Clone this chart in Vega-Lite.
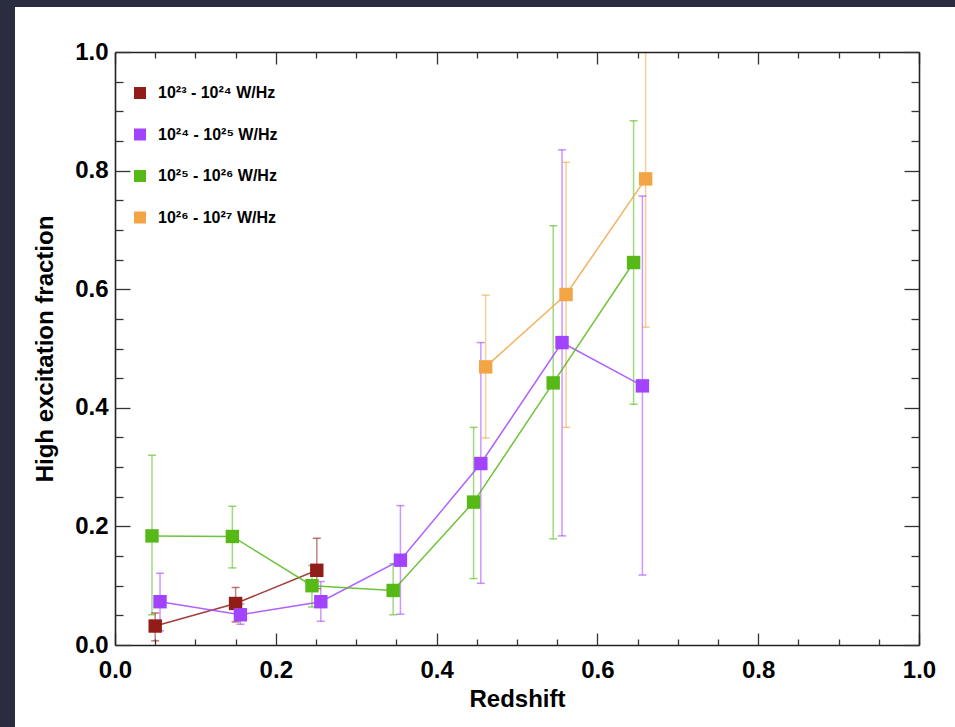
{
  "$schema": "https://vega.github.io/schema/vega-lite/v6.json",
  "autosize": "none",
  "width": 804,
  "height": 593,
  "padding": {"left": 115, "top": 52, "right": 36, "bottom": 82},
  "background": "#2a2c40",
  "data": {
    "values": [
      {"bin": "10²³ - 10²⁴ W/Hz", "z": 0.050, "f": 0.032, "lo": 0.007, "hi": 0.054},
      {"bin": "10²³ - 10²⁴ W/Hz", "z": 0.150, "f": 0.070, "lo": 0.039, "hi": 0.097},
      {"bin": "10²³ - 10²⁴ W/Hz", "z": 0.251, "f": 0.126, "lo": 0.095, "hi": 0.180},
      {"bin": "10²⁴ - 10²⁵ W/Hz", "z": 0.056, "f": 0.073, "lo": 0.024, "hi": 0.121},
      {"bin": "10²⁴ - 10²⁵ W/Hz", "z": 0.156, "f": 0.051, "lo": 0.035, "hi": 0.069},
      {"bin": "10²⁴ - 10²⁵ W/Hz", "z": 0.256, "f": 0.073, "lo": 0.040, "hi": 0.107},
      {"bin": "10²⁴ - 10²⁵ W/Hz", "z": 0.355, "f": 0.143, "lo": 0.052, "hi": 0.235},
      {"bin": "10²⁴ - 10²⁵ W/Hz", "z": 0.455, "f": 0.306, "lo": 0.104, "hi": 0.510},
      {"bin": "10²⁴ - 10²⁵ W/Hz", "z": 0.556, "f": 0.510, "lo": 0.184, "hi": 0.835},
      {"bin": "10²⁴ - 10²⁵ W/Hz", "z": 0.656, "f": 0.437, "lo": 0.118, "hi": 0.757},
      {"bin": "10²⁵ - 10²⁶ W/Hz", "z": 0.046, "f": 0.184, "lo": 0.051, "hi": 0.320},
      {"bin": "10²⁵ - 10²⁶ W/Hz", "z": 0.146, "f": 0.183, "lo": 0.130, "hi": 0.234},
      {"bin": "10²⁵ - 10²⁶ W/Hz", "z": 0.245, "f": 0.100, "lo": 0.064, "hi": 0.134},
      {"bin": "10²⁵ - 10²⁶ W/Hz", "z": 0.346, "f": 0.092, "lo": 0.051, "hi": 0.137},
      {"bin": "10²⁵ - 10²⁶ W/Hz", "z": 0.446, "f": 0.241, "lo": 0.112, "hi": 0.367},
      {"bin": "10²⁵ - 10²⁶ W/Hz", "z": 0.545, "f": 0.442, "lo": 0.179, "hi": 0.707},
      {"bin": "10²⁵ - 10²⁶ W/Hz", "z": 0.645, "f": 0.645, "lo": 0.406, "hi": 0.884},
      {"bin": "10²⁶ - 10²⁷ W/Hz", "z": 0.461, "f": 0.469, "lo": 0.349, "hi": 0.590},
      {"bin": "10²⁶ - 10²⁷ W/Hz", "z": 0.561, "f": 0.591, "lo": 0.367, "hi": 0.814},
      {"bin": "10²⁶ - 10²⁷ W/Hz", "z": 0.660, "f": 0.786, "lo": 0.536, "hi": 1.050}
    ]
  },
  "resolve": {"axis": {"x": "independent", "y": "independent"}},
  "layer": [
    {
      "mark": {"type": "rect", "color": "white", "clip": false},
      "encoding": {
        "x": {"datum": -0.124, "type": "quantitative", "scale": {"domain": [0, 1], "nice": false}, "axis": null},
        "x2": {"datum": 1.2},
        "y": {"datum": 1.076, "type": "quantitative", "scale": {"domain": [0, 1], "nice": false}, "axis": null},
        "y2": {"datum": -0.2}
      }
    },
    {
      "mark": {"type": "rule", "strokeWidth": 1.5, "opacity": 0.55, "clip": true},
      "encoding": {
        "x": {"field": "z", "type": "quantitative", "scale": {"domain": [0, 1], "nice": false},
          "axis": {"zindex": 2, "orient": "bottom", "values": [0, 0.2, 0.4, 0.6, 0.8, 1.0], "format": ".1f", "ticks": false, "domain": true, "title": "Redshift", "labelPadding": 13, "titlePadding": 5}},
        "y": {"field": "lo", "type": "quantitative", "scale": {"domain": [0, 1], "nice": false},
          "axis": {"zindex": 2, "orient": "left", "values": [0, 0.2, 0.4, 0.6, 0.8, 1.0], "format": ".1f", "ticks": false, "domain": true, "title": "High excitation fraction", "labelPadding": 7, "titlePadding": 17}},
        "y2": {"field": "hi"},
        "color": {"field": "bin", "type": "nominal", "legend": null,
          "scale": {"range": ["#921c18", "#a244ff", "#56b918", "#f3a444"]}}
      }
    },
    {
      "mark": {"type": "tick", "orient": "horizontal", "size": 8, "thickness": 1.5, "opacity": 0.6, "clip": true},
      "encoding": {
        "x": {"field": "z", "type": "quantitative", "scale": {"domain": [0, 1], "nice": false},
          "axis": {"zindex": 2, "orient": "bottom", "values": [0, 0.2, 0.4, 0.6, 0.8, 1.0], "labels": false, "domain": false, "tickSize": -12, "title": null}},
        "y": {"field": "lo", "type": "quantitative", "scale": {"domain": [0, 1], "nice": false},
          "axis": {"zindex": 2, "orient": "left", "values": [0, 0.2, 0.4, 0.6, 0.8, 1.0], "labels": false, "domain": false, "tickSize": -15, "title": null}},
        "color": {"field": "bin", "type": "nominal", "legend": null}
      }
    },
    {
      "mark": {"type": "tick", "orient": "horizontal", "size": 8, "thickness": 1.5, "opacity": 0.6, "clip": true},
      "encoding": {
        "x": {"field": "z", "type": "quantitative", "scale": {"domain": [0, 1], "nice": false},
          "axis": {"zindex": 2, "orient": "bottom", "values": [0.05, 0.1, 0.15, 0.25, 0.3, 0.35, 0.45, 0.5, 0.55, 0.65, 0.7, 0.75, 0.85, 0.9, 0.95], "labels": false, "domain": false, "tickSize": -6, "title": null}},
        "y": {"field": "hi", "type": "quantitative", "scale": {"domain": [0, 1], "nice": false},
          "axis": {"zindex": 2, "orient": "left", "values": [0.05, 0.1, 0.15, 0.25, 0.3, 0.35, 0.45, 0.5, 0.55, 0.65, 0.7, 0.75, 0.85, 0.9, 0.95], "labels": false, "domain": false, "tickSize": -8, "title": null}},
        "color": {"field": "bin", "type": "nominal", "legend": null}
      }
    },
    {
      "mark": {"type": "line", "strokeWidth": 1.5, "opacity": 0.85},
      "encoding": {
        "x": {"field": "z", "type": "quantitative", "scale": {"domain": [0, 1], "nice": false},
          "axis": {"zindex": 2, "orient": "top", "values": [0, 0.2, 0.4, 0.6, 0.8, 1.0], "labels": false, "domain": true, "tickSize": -12, "title": null}},
        "y": {"field": "f", "type": "quantitative", "scale": {"domain": [0, 1], "nice": false},
          "axis": {"zindex": 2, "orient": "right", "values": [0, 0.2, 0.4, 0.6, 0.8, 1.0], "labels": false, "domain": true, "tickSize": -15, "title": null}},
        "color": {"field": "bin", "type": "nominal", "legend": null}
      }
    },
    {
      "mark": {"type": "point", "shape": "square", "filled": true, "size": 180, "opacity": 1, "strokeWidth": 0},
      "encoding": {
        "x": {"field": "z", "type": "quantitative", "scale": {"domain": [0, 1], "nice": false},
          "axis": {"zindex": 2, "orient": "top", "values": [0.05, 0.1, 0.15, 0.25, 0.3, 0.35, 0.45, 0.5, 0.55, 0.65, 0.7, 0.75, 0.85, 0.9, 0.95], "labels": false, "domain": false, "tickSize": -6, "title": null}},
        "y": {"field": "f", "type": "quantitative", "scale": {"domain": [0, 1], "nice": false},
          "axis": {"zindex": 2, "orient": "right", "values": [0.05, 0.1, 0.15, 0.25, 0.3, 0.35, 0.45, 0.5, 0.55, 0.65, 0.7, 0.75, 0.85, 0.9, 0.95], "labels": false, "domain": false, "tickSize": -8, "title": null}},
        "fill": {
          "field": "bin", "type": "nominal",
          "scale": {"domain": ["10²³ - 10²⁴ W/Hz", "10²⁴ - 10²⁵ W/Hz", "10²⁵ - 10²⁶ W/Hz", "10²⁶ - 10²⁷ W/Hz"], "range": ["#921c18", "#a244ff", "#56b918", "#f3a444"]},
          "legend": {"orient": "none", "legendX": 17, "legendY": 33, "title": null, "symbolType": "square", "symbolSize": 144, "symbolOpacity": 1, "symbolStrokeWidth": 0, "labelFont": "Liberation Sans", "labelFontWeight": "bold", "labelFontSize": 16, "labelColor": "black", "labelOffset": 10, "rowPadding": 25.5, "padding": 0, "zindex": 2}
        }
      }
    }
  ],
  "config": {
    "view": {"stroke": null},
    "axis": {
      "grid": false,
      "labelFont": "Liberation Sans",
      "labelFontWeight": "bold",
      "labelFontSize": 24,
      "labelColor": "black",
      "labelFlush": false,
      "labelOverlap": false,
      "titleFont": "Liberation Sans",
      "titleFontWeight": "bold",
      "titleFontSize": 24,
      "titleColor": "black",
      "domainColor": "#222222",
      "domainWidth": 1.6,
      "tickColor": "#333333",
      "tickWidth": 1.3
    }
  }
}
